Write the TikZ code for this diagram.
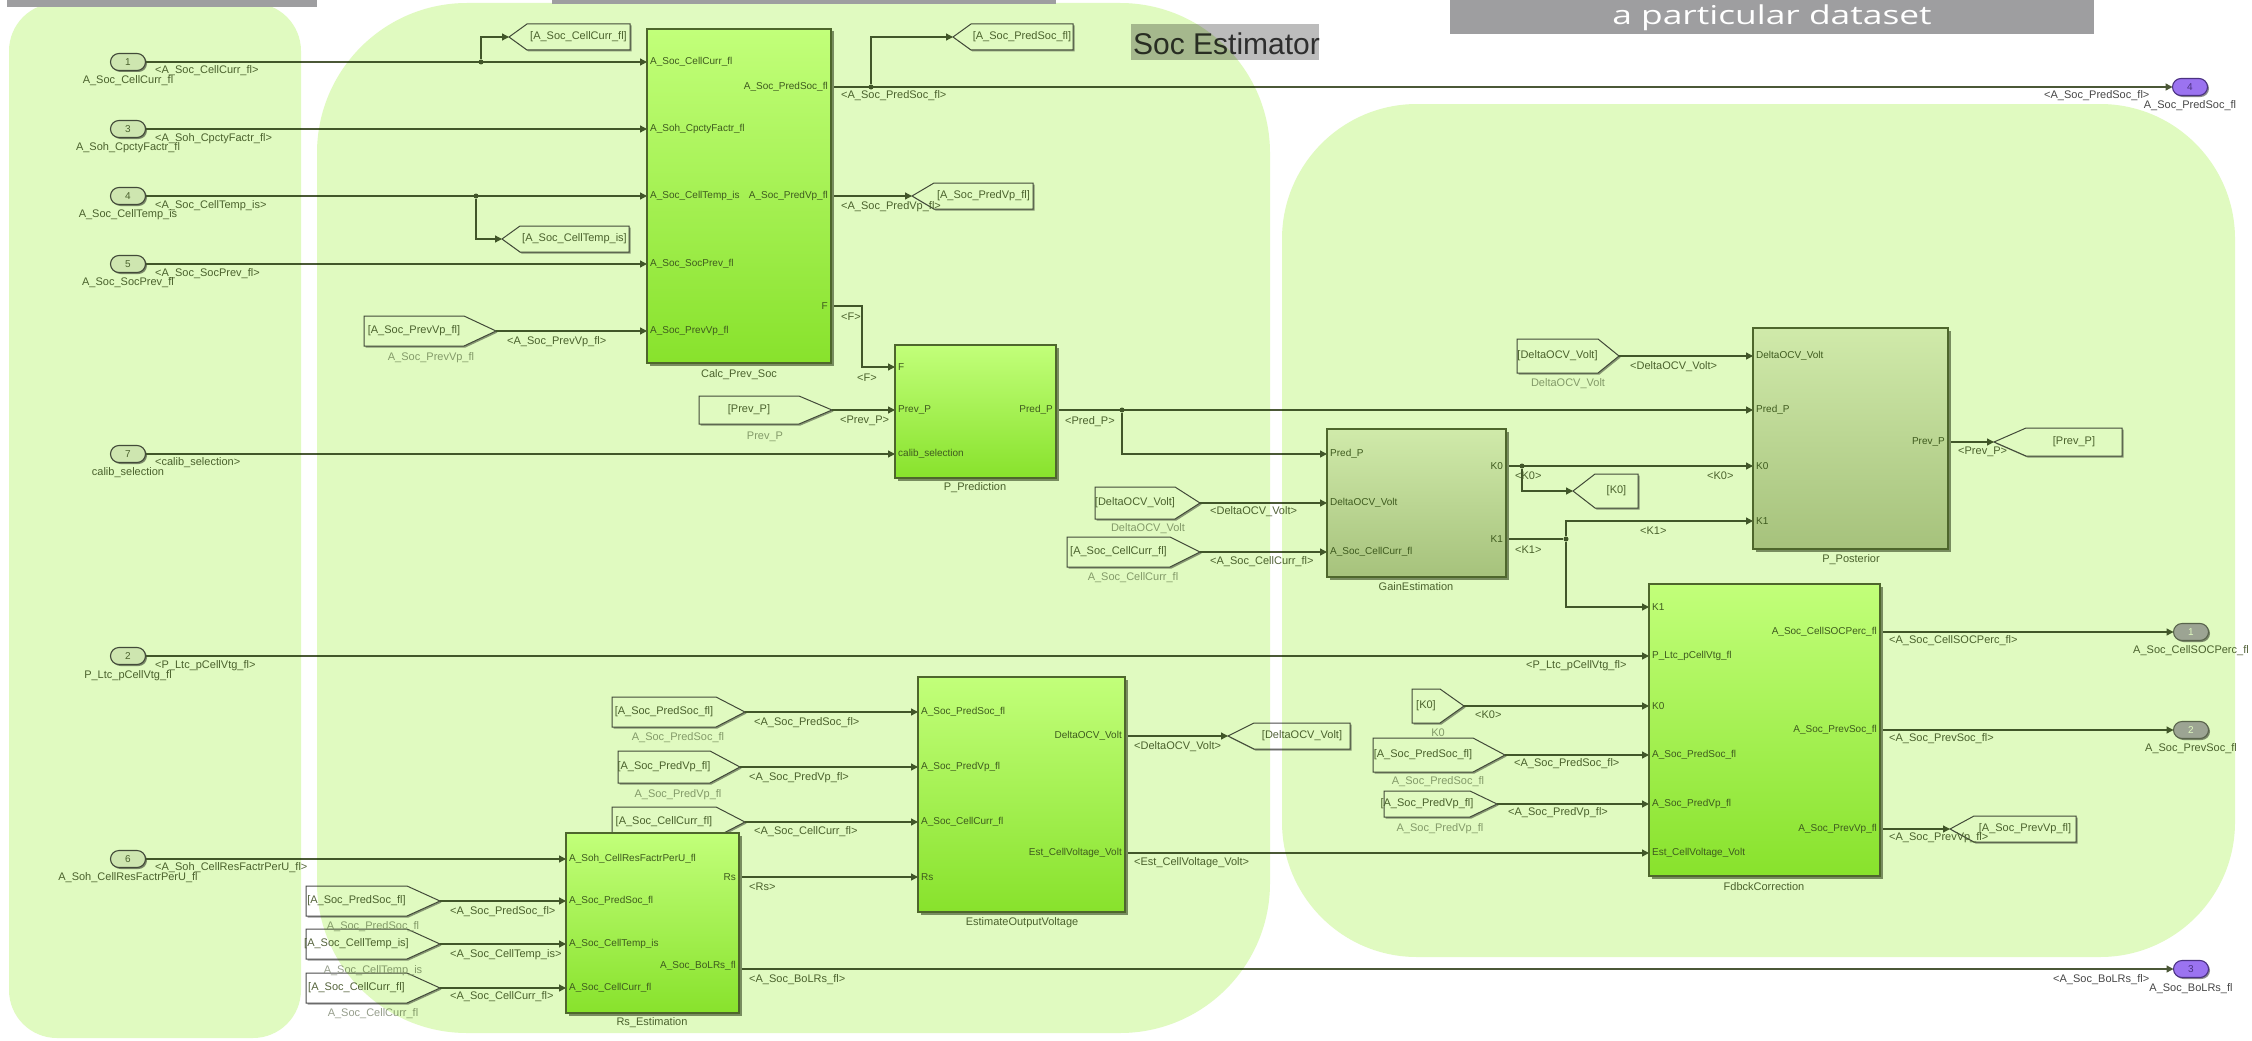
\documentclass[tikz,border=0pt]{standalone}
\usepackage{fontspec}
\setmainfont{Liberation Sans}
\newfontfamily\ttlfont{Open Sans}
\usetikzlibrary{arrows.meta,shapes.misc,shadows}

\definecolor{panelc}{RGB}{224,250,192}
\definecolor{lnc}{RGB}{75,88,55}
\definecolor{txc}{RGB}{85,100,60}
\definecolor{lbl}{RGB}{150,158,140}
\definecolor{barc}{RGB}{158,158,160}
\definecolor{annog}{RGB}{188,188,188}
\definecolor{limeT}{RGB}{194,255,122}
\definecolor{limeB}{RGB}{136,226,44}
\definecolor{sageT}{RGB}{208,234,170}
\definecolor{sageB}{RGB}{166,194,124}
\definecolor{blkbd}{RGB}{78,102,44}
\definecolor{blktx}{RGB}{62,90,30}
\definecolor{blkshad}{RGB}{120,140,95}
\definecolor{purp}{RGB}{155,115,240}
\definecolor{purpd}{RGB}{75,50,130}
\definecolor{outg}{RGB}{178,168,196}

\tikzset{
  ln/.style={draw=lnc, line width=1.3pt},
  arr/.style={ln, -{Triangle[length=7pt,width=7pt]}},
  sig/.style={font=\fontsize{11}{11}\selectfont, text=txc, inner sep=0pt, anchor=west},
  nm/.style={font=\fontsize{11}{11}\selectfont, text=txc, inner sep=0pt},
  fnm/.style={font=\fontsize{11}{11}\selectfont, text=lbl, inner sep=0pt},
  tagtxt/.style={font=\fontsize{11}{11}\selectfont, text=txc, inner sep=0pt},
  tagbox/.style={draw=black!70, fill=white, line width=1pt},
  tagshad/.style={fill=black!40},
  inport/.style={rounded rectangle, draw=black!70, fill=black!8, line width=1.1pt,
    minimum width=35pt, minimum height=17pt, inner sep=0pt, outer sep=0pt,
    font=\fontsize{10}{10}\selectfont, text=txc,
    general shadow={fill=black!45, shadow xshift=1.5pt, shadow yshift=-1.5pt}},
  outp/.style={inport, fill=purp, draw=purpd, text=purpd},
  outq/.style={inport, fill=outg, draw=black!60, text=white},
  jn/.style={circle, fill=lnc, inner sep=0pt, minimum size=5pt},
  sub/.style={draw=blkbd, line width=1.2pt, anchor=north west, inner sep=0pt, outer sep=0pt,
    general shadow={fill=blkshad, shadow xshift=2.5pt, shadow yshift=-2.5pt}},
  lime/.style={sub, top color=limeT, bottom color=limeB},
  sage/.style={sub, top color=sageT, bottom color=sageB},
  pin/.style={font=\fontsize{10}{10}\selectfont, text=blktx, inner sep=0pt, anchor=west},
  pout/.style={font=\fontsize{10}{10}\selectfont, text=blktx, inner sep=0pt, anchor=east},
}

% From block: name, xL, yT, xR(tip), yB, d, text
\newcommand\FromB[7]{%
  \pgfmathsetmacro\fbyc{(#3+#5)/2}%
  \pgfmathsetmacro\fbxd{#4-#6}%
  \pgfmathsetmacro\fbxm{(#2+\fbxd)/2}%
  \fill[tagshad,shift={(1.5pt,-1.5pt)}] (#2,#3) -- (\fbxd,#3) -- (#4,\fbyc) -- (\fbxd,#5) -- (#2,#5) -- cycle;
  \draw[tagbox] (#2,#3) -- (\fbxd,#3) -- (#4,\fbyc) -- (\fbxd,#5) -- (#2,#5) -- cycle;
  \node[tagtxt] (#1) at (\fbxm,\fbyc) {#7};
  \coordinate (#1-tip) at (#4,\fbyc);
}
% Goto block: name, xTip, yT, xR, yB, d, text
\newcommand\GotoB[7]{%
  \pgfmathsetmacro\gbyc{(#3+#5)/2}%
  \pgfmathsetmacro\gbxd{#2+#6}%
  \pgfmathsetmacro\gbxm{(#4+\gbxd)/2}%
  \fill[tagshad,shift={(1.5pt,-1.5pt)}] (#2,\gbyc) -- (\gbxd,#3) -- (#4,#3) -- (#4,#5) -- (\gbxd,#5) -- cycle;
  \draw[tagbox] (#2,\gbyc) -- (\gbxd,#3) -- (#4,#3) -- (#4,#5) -- (\gbxd,#5) -- cycle;
  \node[tagtxt] (#1) at (\gbxm,\gbyc) {#7};
  \coordinate (#1-tip) at (#2,\gbyc);
}

\begin{document}
\begin{tikzpicture}[x=1pt,y=-1pt]
\clip (0,0) rectangle (2252,1041);
\fill[white] (0,0) rectangle (2252,1041);

% area annotation
\fill[annog] (1131,24) rectangle (1319,60);
\node[anchor=base west, inner sep=0pt, font=\fontsize{30}{30}\selectfont, text=black!82] (areatitle) at (1133,55) {Soc Estimator};

% ---------- port coordinates of the subsystems ----------
\coordinate (calc-i1) at (647,62);  \coordinate (calc-i2) at (647,129);
\coordinate (calc-i3) at (647,196); \coordinate (calc-i4) at (647,264);
\coordinate (calc-i5) at (647,331);
\coordinate (calc-o1) at (831,87);  \coordinate (calc-o2) at (831,196);
\coordinate (calc-o3) at (831,306);
\coordinate (pp-i1) at (895,367); \coordinate (pp-i2) at (895,410);
\coordinate (pp-i3) at (895,454); \coordinate (pp-o1) at (1056,410);
\coordinate (ge-i1) at (1327,454); \coordinate (ge-i2) at (1327,503);
\coordinate (ge-i3) at (1327,552); \coordinate (ge-o1) at (1506,466);
\coordinate (ge-o2) at (1506,539);
\coordinate (po-i1) at (1753,356); \coordinate (po-i2) at (1753,410);
\coordinate (po-i3) at (1753,466); \coordinate (po-i4) at (1753,521);
\coordinate (po-o1) at (1948,442);
\coordinate (fb-i1) at (1649,607); \coordinate (fb-i2) at (1649,656);
\coordinate (fb-i3) at (1649,706); \coordinate (fb-i4) at (1649,755);
\coordinate (fb-i5) at (1649,804); \coordinate (fb-i6) at (1649,853);
\coordinate (fb-o1) at (1880,632); \coordinate (fb-o2) at (1880,730);
\coordinate (fb-o3) at (1880,829);
\coordinate (eo-i1) at (918,712); \coordinate (eo-i2) at (918,767);
\coordinate (eo-i3) at (918,822); \coordinate (eo-i4) at (918,877);
\coordinate (eo-o1) at (1125,736); \coordinate (eo-o2) at (1125,853);
\coordinate (rs-i1) at (566,859); \coordinate (rs-i2) at (566,901);
\coordinate (rs-i3) at (566,944); \coordinate (rs-i4) at (566,988);
\coordinate (rs-o1) at (739,877); \coordinate (rs-o2) at (739,969);

% ---------- inports / outports ----------
\node[inport] (in1) at (128,62) {1};
\node[inport] (in3) at (128,129) {3};
\node[inport] (in4) at (128,196) {4};
\node[inport] (in5) at (128,264) {5};
\node[inport] (in7) at (128,454) {7};
\node[inport] (in2) at (128,656) {2};
\node[inport] (in6) at (128,859) {6};
\node[nm] (in1n) at (128,81) {A\_Soc\_CellCurr\_fl};
\node[nm] (in3n) at (128,148) {A\_Soh\_CpctyFactr\_fl};
\node[nm] (in4n) at (128,215) {A\_Soc\_CellTemp\_is};
\node[nm] (in5n) at (128,283) {A\_Soc\_SocPrev\_fl};
\node[nm] (in7n) at (128,473) {calib\_selection};
\node[nm] (in2n) at (128,676) {P\_Ltc\_pCellVtg\_fl};
\node[nm] (in6n) at (128,878) {A\_Soh\_CellResFactrPerU\_fl};

\node[outp] (out4) at (2190,87) {4};
\node[outq] (out1) at (2191,632) {1};
\node[outq] (out2) at (2191,730) {2};
\node[outp] (out3) at (2191,969) {3};
\node[nm, text=black!72] (out4n) at (2190,106) {A\_Soc\_PredSoc\_fl};
\node[nm, anchor=west] (out1n) at (2133,651) {A\_Soc\_CellSOCPerc\_fl};
\node[nm] (out2n) at (2191,749) {A\_Soc\_PrevSoc\_fl};
\node[nm, text=black!72] (out3n) at (2191,989) {A\_Soc\_BoLRs\_fl};

% ---------- goto blocks ----------
\GotoB{g1}{509}{24}{630}{50}{18}{[A\_Soc\_CellCurr\_fl]}
\GotoB{g2}{502}{226}{629}{252}{18}{[A\_Soc\_CellTemp\_is]}
\GotoB{g3}{953}{24}{1073}{50}{18}{[A\_Soc\_PredSoc\_fl]}
\GotoB{g4}{912}{183}{1033}{209}{22}{[A\_Soc\_PredVp\_fl]}
\GotoB{g5}{1573}{474}{1638}{508}{22}{[K0]}
\GotoB{g6}{1994}{428}{2122}{456}{32}{[Prev\_P]}
\GotoB{g7}{1950}{816}{2076}{842}{24}{[A\_Soc\_PrevVp\_fl]}
\GotoB{g8}{1228}{723}{1350}{749}{26}{[DeltaOCV\_Volt]}

% ---------- from blocks ----------
\FromB{f1}{364}{316}{496}{346}{32}{[A\_Soc\_PrevVp\_fl]}
\FromB{f2}{699}{396}{832}{424}{33}{[Prev\_P]}
\FromB{f3}{1095}{487}{1200}{519}{25}{[DeltaOCV\_Volt]}
\FromB{f4}{1067}{537}{1200}{567}{30}{[A\_Soc\_CellCurr\_fl]}
\FromB{f5}{1517}{339}{1619}{373}{21}{[DeltaOCV\_Volt]}
\FromB{f6}{1412}{689}{1464}{723}{24}{[K0]}
\FromB{f7}{1373}{738}{1505}{772}{32}{[A\_Soc\_PredSoc\_fl]}
\FromB{f8}{1384}{791}{1497}{817}{27}{[A\_Soc\_PredVp\_fl]}
\FromB{f9}{612}{697}{745}{727}{29}{[A\_Soc\_PredSoc\_fl]}
\FromB{f10}{618}{751}{740}{783}{30}{[A\_Soc\_PredVp\_fl]}
\FromB{f11}{612}{807}{745}{837}{29}{[A\_Soc\_CellCurr\_fl]}
\FromB{f12}{306}{886}{440}{916}{33}{[A\_Soc\_PredSoc\_fl]}
\FromB{f13}{306}{929}{440}{959}{33}{[A\_Soc\_CellTemp\_is]}
\FromB{f14}{306}{973}{440}{1003}{33}{[A\_Soc\_CellCurr\_fl]}

\node[fnm] (f1n) at (431,358) {A\_Soc\_PrevVp\_fl};
\node[fnm] (f2n) at (765,437) {Prev\_P};
\node[fnm] (f3n) at (1148,529) {DeltaOCV\_Volt};
\node[fnm] (f4n) at (1133,578) {A\_Soc\_CellCurr\_fl};
\node[fnm] (f5n) at (1568,384) {DeltaOCV\_Volt};
\node[fnm] (f6n) at (1438,733) {K0};
\node[fnm] (f7n) at (1438,782) {A\_Soc\_PredSoc\_fl};
\node[fnm] (f8n) at (1440,829) {A\_Soc\_PredVp\_fl};
\node[fnm] (f9n) at (678,738) {A\_Soc\_PredSoc\_fl};
\node[fnm] (f10n) at (678,795) {A\_Soc\_PredVp\_fl};
\node[fnm] (f12n) at (373,927) {A\_Soc\_PredSoc\_fl};
\node[fnm] (f13n) at (373,971) {A\_Soc\_CellTemp\_is};
\node[fnm] (f14n) at (373,1014) {A\_Soc\_CellCurr\_fl};

% ---------- junctions ----------
\node[jn] (j1) at (481,62) {};
\node[jn] (j2) at (476,196) {};
\node[jn] (j3) at (871,87) {};
\node[jn] (j4) at (1122,410) {};
\node[jn] (j5) at (1522,466) {};
\node[jn] (j6) at (1566,539) {};

% ---------- connectors ----------
\draw[arr] (in1.east) -- (calc-i1);
\draw[arr] (j1) |- (g1-tip);
\draw[arr] (in3.east) -- (calc-i2);
\draw[arr] (in4.east) -- (calc-i3);
\draw[arr] (j2) |- (g2-tip);
\draw[arr] (in5.east) -- (calc-i4);
\draw[arr] (f1-tip) -- (calc-i5);
\draw[arr] (calc-o1) -- (out4.west);
\draw[arr] (j3) |- (g3-tip);
\draw[arr] (calc-o2) -- (g4-tip);
\draw[arr] (calc-o3) -- ++(31,0) |- (pp-i1);
\draw[arr] (f2-tip) -- (pp-i2);
\draw[arr] (in7.east) -- (pp-i3);
\draw[arr] (pp-o1) -- (po-i2);
\draw[arr] (j4) |- (ge-i1);
\draw[arr] (f3-tip) -- (ge-i2);
\draw[arr] (f4-tip) -- (ge-i3);
\draw[arr] (ge-o1) -- (po-i3);
\draw[arr] (j5) |- (g5-tip);
\draw[ln] (ge-o2) -- (j6);
\draw[arr] (j6) |- (po-i4);
\draw[arr] (j6) |- (fb-i1);
\draw[arr] (f5-tip) -- (po-i1);
\draw[arr] (po-o1) -- (g6-tip);
\draw[arr] (in2.east) -- (fb-i2);
\draw[arr] (f6-tip) -- (fb-i3);
\draw[arr] (f7-tip) -- (fb-i4);
\draw[arr] (f8-tip) -- (fb-i5);
\draw[arr] (eo-o2) -- (fb-i6);
\draw[arr] (fb-o1) -- (out1.west);
\draw[arr] (fb-o2) -- (out2.west);
\draw[arr] (fb-o3) -- (g7-tip);
\draw[arr] (f9-tip) -- (eo-i1);
\draw[arr] (f10-tip) -- (eo-i2);
\draw[arr] (f11-tip) -- (eo-i3);
\draw[arr] (rs-o1) -- (eo-i4);
\draw[arr] (eo-o1) -- (g8-tip);
\draw[arr] (in6.east) -- (rs-i1);
\draw[arr] (f12-tip) -- (rs-i2);
\draw[arr] (f13-tip) -- (rs-i3);
\draw[arr] (f14-tip) -- (rs-i4);
\draw[arr] (rs-o2) -- (out3.west);

% ---------- signal labels ----------
\node[sig] (s1) at (155,71) {<A\_Soc\_CellCurr\_fl>};
\node[sig] (s2) at (155,139) {<A\_Soh\_CpctyFactr\_fl>};
\node[sig] (s3) at (155,206) {<A\_Soc\_CellTemp\_is>};
\node[sig] (s4) at (155,274) {<A\_Soc\_SocPrev\_fl>};
\node[sig] (s5) at (155,463) {<calib\_selection>};
\node[sig] (s6) at (155,666) {<P\_Ltc\_pCellVtg\_fl>};
\node[sig] (s7) at (155,868) {<A\_Soh\_CellResFactrPerU\_fl>};
\node[sig] (s8) at (507,342) {<A\_Soc\_PrevVp\_fl>};
\node[sig] (s9) at (841,96) {<A\_Soc\_PredSoc\_fl>};
\node[sig] (s10) at (841,207) {<A\_Soc\_PredVp\_fl>};
\node[sig] (s11) at (841,317) {<F>};
\node[sig] (s12) at (857,378) {<F>};
\node[sig] (s13) at (840,421) {<Prev\_P>};
\node[sig] (s14) at (1065,422) {<Pred\_P>};
\node[sig] (s15) at (1210,512) {<DeltaOCV\_Volt>};
\node[sig] (s16) at (1210,562) {<A\_Soc\_CellCurr\_fl>};
\node[sig] (s17) at (1515,476) {<K0>};
\node[sig] (s18) at (1707,476) {<K0>};
\node[sig] (s19) at (1515,550) {<K1>};
\node[sig] (s20) at (1640,531) {<K1>};
\node[sig] (s21) at (1630,367) {<DeltaOCV\_Volt>};
\node[sig] (s22) at (1958,452) {<Prev\_P>};
\node[sig] (s23) at (1526,666) {<P\_Ltc\_pCellVtg\_fl>};
\node[sig] (s24) at (1475,715) {<K0>};
\node[sig] (s25) at (1514,764) {<A\_Soc\_PredSoc\_fl>};
\node[sig] (s26) at (1508,813) {<A\_Soc\_PredVp\_fl>};
\node[sig] (s27) at (1889,641) {<A\_Soc\_CellSOCPerc\_fl>};
\node[sig] (s28) at (1889,739) {<A\_Soc\_PrevSoc\_fl>};
\node[sig] (s29) at (1889,838) {<A\_Soc\_PrevVp\_fl>};
\node[sig] (s30) at (754,723) {<A\_Soc\_PredSoc\_fl>};
\node[sig] (s31) at (749,778) {<A\_Soc\_PredVp\_fl>};
\node[sig] (s32) at (754,832) {<A\_Soc\_CellCurr\_fl>};
\node[sig] (s33) at (1134,747) {<DeltaOCV\_Volt>};
\node[sig] (s34) at (1134,863) {<Est\_CellVoltage\_Volt>};
\node[sig] (s35) at (749,887) {<Rs>};
\node[sig] (s36) at (450,912) {<A\_Soc\_PredSoc\_fl>};
\node[sig] (s37) at (450,955) {<A\_Soc\_CellTemp\_is>};
\node[sig] (s38) at (450,997) {<A\_Soc\_CellCurr\_fl>};
\node[sig] (s39) at (749,980) {<A\_Soc\_BoLRs\_fl>};
\node[sig, text=black!72] (s40) at (2053,980) {<A\_Soc\_BoLRs\_fl>};
\node[sig, text=black!72] (s41) at (2044,96) {<A\_Soc\_PredSoc\_fl>};

% block names
\node[nm] (calcn) at (739,375) {Calc\_Prev\_Soc};
\node[nm] (ppn) at (975,488) {P\_Prediction};
\node[nm] (gen) at (1416,587) {GainEstimation};
\node[nm] (pon) at (1851,560) {P\_Posterior};
\node[nm] (fbn) at (1764,887) {FdbckCorrection};
\node[nm] (eon) at (1022,923) {EstimateOutputVoltage};
\node[nm] (rsn) at (652,1023) {Rs\_Estimation};

% ---------- translucent areas ----------
\begin{scope}[blend mode=multiply]
  \fill[panelc, rounded corners=48pt] (9,3) rectangle (301,1038);
  \fill[panelc, rounded corners=150pt] (317,3) rectangle (1270,1033);
  \fill[panelc, rounded corners=135pt] (1282,104) rectangle (2235,957);
\end{scope}

% ---------- subsystems ----------
\node[lime, minimum width=184pt, minimum height=334pt] (calc) at (647,29) {};
\node[lime, minimum width=161pt, minimum height=133pt] (ppred) at (895,345) {};
\node[sage, minimum width=179pt, minimum height=148pt] (gain) at (1327,429) {};
\node[sage, minimum width=195pt, minimum height=221pt] (ppost) at (1753,328) {};
\node[lime, minimum width=231pt, minimum height=292pt] (fdbk) at (1649,584) {};
\node[lime, minimum width=207pt, minimum height=235pt] (eov) at (918,677) {};
\node[lime, minimum width=173pt, minimum height=180pt] (rs) at (566,833) {};

% port labels inside subsystems
\node[pin] at (650,62) {A\_Soc\_CellCurr\_fl};
\node[pin] at (650,129) {A\_Soh\_CpctyFactr\_fl};
\node[pin] at (650,196) {A\_Soc\_CellTemp\_is};
\node[pin] at (650,264) {A\_Soc\_SocPrev\_fl};
\node[pin] at (650,331) {A\_Soc\_PrevVp\_fl};
\node[pout] at (828,87) {A\_Soc\_PredSoc\_fl};
\node[pout] at (828,196) {A\_Soc\_PredVp\_fl};
\node[pout] at (828,306) {F};

\node[pin] at (898,367) {F};
\node[pin] at (898,410) {Prev\_P};
\node[pin] at (898,454) {calib\_selection};
\node[pout] at (1053,410) {Pred\_P};

\node[pin] at (1330,454) {Pred\_P};
\node[pin] at (1330,503) {DeltaOCV\_Volt};
\node[pin] at (1330,552) {A\_Soc\_CellCurr\_fl};
\node[pout] at (1503,466) {K0};
\node[pout] at (1503,539) {K1};

\node[pin] at (1756,356) {DeltaOCV\_Volt};
\node[pin] at (1756,410) {Pred\_P};
\node[pin] at (1756,466) {K0};
\node[pin] at (1756,521) {K1};
\node[pout] at (1945,442) {Prev\_P};

\node[pin] at (1652,607) {K1};
\node[pin] at (1652,656) {P\_Ltc\_pCellVtg\_fl};
\node[pin] at (1652,706) {K0};
\node[pin] at (1652,755) {A\_Soc\_PredSoc\_fl};
\node[pin] at (1652,804) {A\_Soc\_PredVp\_fl};
\node[pin] at (1652,853) {Est\_CellVoltage\_Volt};
\node[pout] at (1877,632) {A\_Soc\_CellSOCPerc\_fl};
\node[pout] at (1877,730) {A\_Soc\_PrevSoc\_fl};
\node[pout] at (1877,829) {A\_Soc\_PrevVp\_fl};

\node[pin] at (921,712) {A\_Soc\_PredSoc\_fl};
\node[pin] at (921,767) {A\_Soc\_PredVp\_fl};
\node[pin] at (921,822) {A\_Soc\_CellCurr\_fl};
\node[pin] at (921,877) {Rs};
\node[pout] at (1122,736) {DeltaOCV\_Volt};
\node[pout] at (1122,853) {Est\_CellVoltage\_Volt};

\node[pin] at (569,859) {A\_Soh\_CellResFactrPerU\_fl};
\node[pin] at (569,901) {A\_Soc\_PredSoc\_fl};
\node[pin] at (569,944) {A\_Soc\_CellTemp\_is};
\node[pin] at (569,988) {A\_Soc\_CellCurr\_fl};
\node[pout] at (736,877) {Rs};
\node[pout] at (736,966) {A\_Soc\_BoLRs\_fl};

% ---------- overlay bars ----------
\fill[barc] (7,0) rectangle (317,7);
\fill[barc] (552,0) rectangle (1056,4);
\fill[barc] (1450,0) rectangle (2094,34);
\node[anchor=base, inner sep=0pt, text=white, font=\ttlfont\fontsize{26}{26}\selectfont] (dataset) at (1772,25) {\scalebox{1.36}[1]{a particular dataset}};
\end{tikzpicture}
\end{document}
